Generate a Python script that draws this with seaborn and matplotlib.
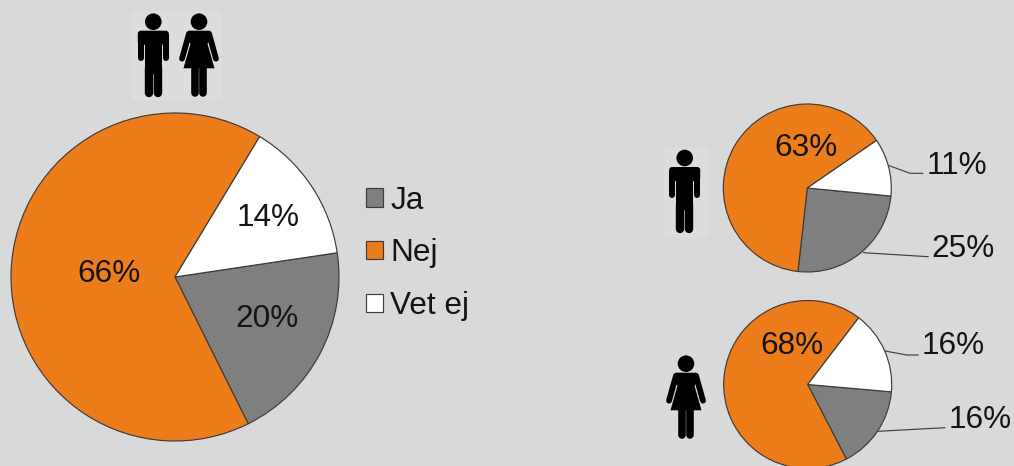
import matplotlib
matplotlib.use("Agg")
import matplotlib.pyplot as plt
from matplotlib.patches import Circle, Rectangle, Polygon, FancyBboxPatch
import seaborn as sns

categories = ["Ja", "Nej", "Vet ej"]
all_values = [20, 66, 14]
men_values = [25, 63, 11]
women_values = [16, 68, 16]

W, H = 1014, 466
BG = "#d9d9d9"
EDGE = "#3c3c3c"
TXT = "#141414"
palette = sns.color_palette(["#7f7f7f", "#ed7d1a", "#ffffff"])

sns.set_theme(style="white", rc={"figure.facecolor": BG, "axes.facecolor": "none",
                                 "savefig.facecolor": BG})
plt.rcParams["font.family"] = ["Liberation Sans", "DejaVu Sans"]
FS = 22.7

fig = plt.figure(figsize=(W / 100, H / 100), dpi=100)


def pie_axes(cx, cy, r, values, start):
    ax = fig.add_axes([(cx - r) / W, 1 - (cy + r) / H, 2 * r / W, 2 * r / H])
    wedges, _ = ax.pie(values, colors=palette, startangle=start, counterclock=False,
                       radius=1, wedgeprops={"edgecolor": EDGE, "linewidth": 0.85})
    ax.set_xlim(-1, 1)
    ax.set_ylim(-1, 1)
    for w in wedges:
        w.set_clip_on(False)
    return wedges


wedges = pie_axes(175, 277, 164, all_values, 8.5)
pie_axes(807.3, 188, 84, men_values, -5.5)
pie_axes(807.7, 384.5, 84, women_values, -5)

# Overlay in pixel coordinates for annotations and icons
ov = fig.add_axes([0, 0, 1, 1])
ov.set_xlim(0, W)
ov.set_ylim(H, 0)
ov.axis("off")


def pct(x, y, v):
    ov.text(x, y + 3, f"{v}%", fontsize=FS, color=TXT, ha="center", va="center")


# Big pie
for (x, y), v in zip([(267, 316), (109, 271), (268, 215)], all_values):
    pct(x, y, v)
# Men
for (x, y), v in zip([(962.7, 245.7), (806, 145), (956.7, 162.7)], men_values):
    pct(x, y, v)
# Women
for (x, y), v in zip([(980, 416.7), (791.7, 343.3), (953.3, 343.3)], women_values):
    pct(x, y, v)

# Leader lines
for xs, ys in [
    ([889.3, 910, 923], [165.7, 173.3, 173.3]),
    ([863.3, 928.3], [252.7, 256.7]),
    ([885, 906.7, 918.3], [351, 355, 355]),
    ([878.3, 945], [431.3, 427.7]),
]:
    ov.plot(xs, ys, color="#404040", lw=0.85)


def bar(x0, y0, x1, y1, w):
    ov.plot([x0, x1], [y0, y1], color="black", lw=w * 0.72, solid_capstyle="round")


def man(cx, cy):
    ov.add_patch(Circle((cx, cy), 8.3, fc="black", ec="none"))
    ov.add_patch(FancyBboxPatch((cx - 12.5, cy + 12), 25, 8, boxstyle="round,pad=3",
                                fc="black", ec="none"))
    ov.add_patch(Rectangle((cx - 8.7, cy + 10), 17.4, 42, fc="black", ec="none"))
    for s in (-1, 1):
        bar(cx + s * 12.5, cy + 14, cx + s * 12.5, cy + 36.5, 6)
        bar(cx + s * 4.5, cy + 46, cx + s * 4.5, cy + 71, 8.4)


def woman(cx, cy):
    ov.add_patch(Circle((cx, cy), 8.3, fc="black", ec="none"))
    ov.add_patch(Polygon([(cx - 10, cy + 9), (cx + 10, cy + 9), (cx + 13, cy + 16),
                          (cx + 8.5, cy + 22), (cx + 15.5, cy + 46.6), (cx - 15.5, cy + 46.6),
                          (cx - 8.5, cy + 22), (cx - 13, cy + 16)],
                         closed=True, fc="black", ec="none"))
    for s in (-1, 1):
        bar(cx + s * 10, cy + 12, cx + s * 17, cy + 37, 5.8)
        bar(cx + s * 4.1, cy + 46, cx + s * 4.1, cy + 71, 7.6)


for (x, y, w, h), c in zip([(132, 11, 90, 89), (663, 147, 45, 90), (660, 350, 50, 95)],
                           ["#dddddd", "#dddddd", "#dadada"]):
    ov.add_patch(Rectangle((x, y), w, h, fc=c, ec="none"))

man(153.3, 21.7)
woman(199, 21.7)
man(684.7, 158)
woman(686, 363.7)

# Legend
fig.legend(wedges, categories, loc="upper left",
           bbox_to_anchor=(353.5 / W, 1 - 173 / H), frameon=False, fontsize=FS,
           labelspacing=0.72, handlelength=0.52, handleheight=0.52, handletextpad=0.25,
           labelcolor=TXT, borderpad=0.4, borderaxespad=0)

fig.savefig("out.png", dpi=100)
